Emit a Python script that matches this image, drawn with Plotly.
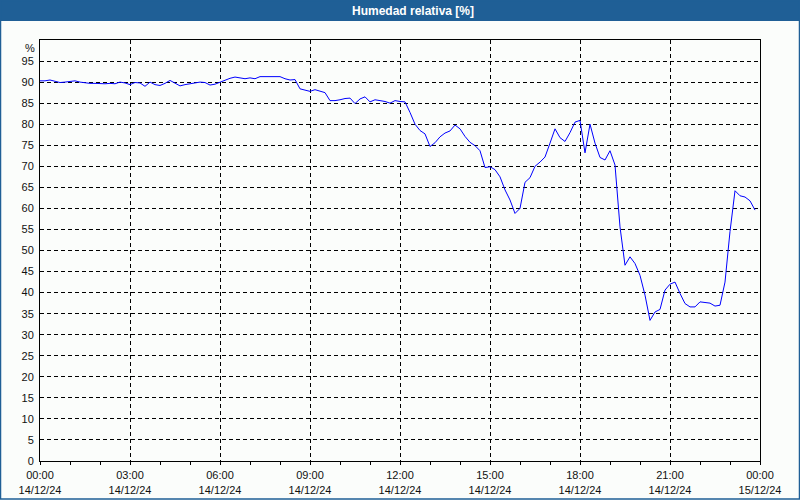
import pandas as pd
import plotly.graph_objects as go

# ---- data ----
start = "2024-12-14 00:00"
times = pd.date_range(start, periods=144, freq="10min")
humidity = [
    90.3, 90.3, 90.5, 90.2, 89.9, 90.0,
    90.1, 90.3, 90.0, 89.8, 89.7, 89.7,
    89.6, 89.6, 89.7, 89.6, 90.0, 89.8,
    89.4, 89.9, 89.8, 89.0, 90.0, 89.4,
    89.2, 89.7, 90.4, 89.8, 89.1, 89.4,
    89.6, 89.8, 90.0, 89.9, 89.3, 89.5,
    90.0, 90.4, 90.9, 91.2, 91.0, 90.8,
    91.0, 90.8, 91.3, 91.3, 91.3, 91.3,
    91.3, 90.8, 90.5, 90.6, 88.4, 88.1,
    87.8, 88.2, 87.8, 87.5, 85.6, 85.6,
    85.8, 86.1, 86.2, 84.9, 86.0, 86.5,
    85.3, 85.8, 85.6, 85.4, 85.0, 85.6,
    85.4, 85.3, 82.8, 80.0, 78.5, 77.7,
    74.7, 75.6, 77.0, 77.9, 78.4, 79.8,
    78.9, 77.1, 75.7, 74.9, 73.7, 69.7,
    69.9, 69.2, 67.5, 64.4, 62.0, 58.8,
    60.0, 66.2, 67.3, 70.0, 71.0, 72.2,
    75.5, 78.9, 76.8, 75.9, 78.0, 80.5,
    80.9, 73.2, 80.0, 75.5, 72.1, 71.5,
    73.7, 70.3, 55.6, 46.5, 48.5, 46.9,
    44.1, 39.4, 33.4, 35.4, 36.0, 40.6,
    42.0, 42.5, 39.8, 37.4, 36.6, 36.6,
    37.8, 37.6, 37.5, 36.8, 37.0, 42.5,
    54.5, 64.2, 63.0, 62.7, 61.8, 59.6,
]
x_tick_vals = pd.date_range(start, periods=9, freq="3h")
x_tick_text = ["00:00<br>14/12/24", "03:00<br>14/12/24", "06:00<br>14/12/24",
               "09:00<br>14/12/24", "12:00<br>14/12/24", "15:00<br>14/12/24",
               "18:00<br>14/12/24", "21:00<br>14/12/24", "00:00<br>15/12/24"]
y_tick_vals = list(range(0, 100, 5))
title_text = "Humedad relativa [%]"
unit_text = "%"

# ---- figure ----
W, H = 800, 500
L, R, T, B = 40, 40, 40, 39
pw, ph = W - L - R, H - T - B
BLUE = "#1f5f96"
BG = "#fbfdfb"
FONT = "Liberation Sans, Arial, sans-serif"

def px_x(p):
    return (p - L) / pw

def px_y(p):
    return (H - B - p) / ph

fig = go.Figure()
fig.add_trace(go.Scatter(x=times, y=humidity, mode="lines",
                         line=dict(color="#0000ff", width=1),
                         hoverinfo="x+y", showlegend=False))

fig.update_layout(
    width=W, height=H,
    margin=dict(l=L, r=R, t=T, b=B, pad=0),
    paper_bgcolor=BG, plot_bgcolor=BG,
    font=dict(family=FONT, size=11, color="#111111"),
    showlegend=False,
    xaxis=dict(
        type="date", automargin=False,
        range=[times[0], pd.Timestamp("2024-12-15 00:00")],
        tickmode="array", tickvals=x_tick_vals, ticktext=x_tick_text,
        ticks="", showgrid=True, gridcolor="#000000", gridwidth=1,
        griddash="4px,3px",
        showline=True, linecolor="#000000", linewidth=1, mirror=True,
        zeroline=False, ticklabelstandoff=4,
        minor=dict(dtick=3600000, ticks="outside", ticklen=3,
                   tickcolor="#000000", showgrid=False),
    ),
    yaxis=dict(
        range=[0, 100], tickmode="array", tickvals=y_tick_vals,
        automargin=False,
        ticks="", showgrid=True, gridcolor="#000000", gridwidth=1,
        griddash="4px,3px",
        showline=True, linecolor="#000000", linewidth=1, mirror=True,
        zeroline=False, ticklabelstandoff=3,
    ),
    shapes=[
        dict(type="rect", xref="paper", yref="paper",
             x0=px_x(0), x1=px_x(W), y0=px_y(0), y1=px_y(21),
             fillcolor=BLUE, line=dict(width=0), layer="below"),
        dict(type="rect", xref="paper", yref="paper",
             x0=px_x(0.5), x1=px_x(W - 0.5), y0=px_y(0.5), y1=px_y(H - 1),
             fillcolor="rgba(0,0,0,0)", line=dict(color=BLUE, width=1.5)),
    ],
    annotations=[
        dict(text="<b>" + title_text + "</b>", xref="paper", yref="paper",
             x=px_x(413), y=px_y(10.5), xanchor="center", yanchor="middle",
             showarrow=False, font=dict(family=FONT, size=12, color="#ffffff")),
        dict(text=unit_text, xref="paper", yref="paper",
             x=0, y=1, xshift=-3, xanchor="right", yanchor="top",
             showarrow=False, font=dict(family=FONT, size=11, color="#111111")),
    ],
)

fig.write_html("out.html")
